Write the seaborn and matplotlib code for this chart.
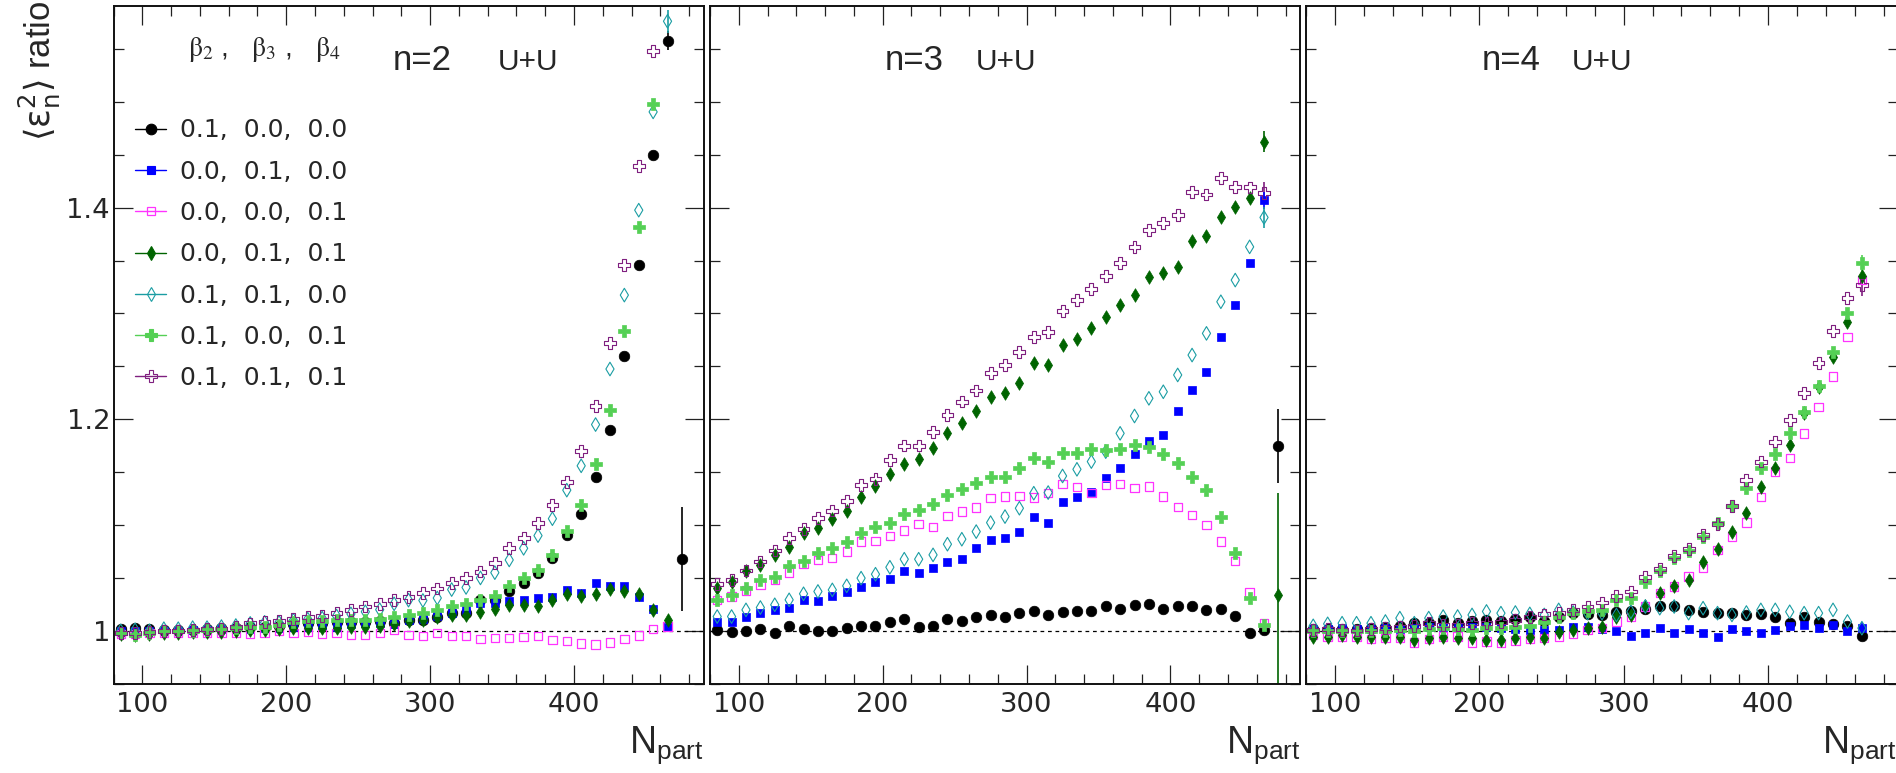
import numpy as np
import pandas as pd
import matplotlib
matplotlib.use("Agg")
import matplotlib.pyplot as plt
import seaborn as sns
from matplotlib.ticker import MultipleLocator, FixedLocator, FuncFormatter
from matplotlib.lines import Line2D

sns.set_theme(style="ticks")
plt.rcParams["font.family"] = ["Liberation Sans", "DejaVu Sans"]
plt.rcParams["mathtext.fontset"] = "custom"
plt.rcParams["mathtext.rm"] = "Liberation Sans"
plt.rcParams["mathtext.it"] = "Liberation Sans:italic"
plt.rcParams["mathtext.bf"] = "Liberation Sans:bold"
plt.rcParams["mathtext.fallback"] = "stixsans"

nan = np.nan

# centrality bins (N_part)
npart = np.arange(85, 476, 10)

# deformation sets (beta2, beta3, beta4)
labels = ["0.1,  0.0,  0.0", "0.0,  0.1,  0.0", "0.0,  0.0,  0.1", "0.0,  0.1,  0.1",
          "0.1,  0.1,  0.0", "0.1,  0.0,  0.1", "0.1,  0.1,  0.1"]

# ---- n = 2 ----
n2_b2 = [1.002, 1.003, 1.002, 1.001, 1.001, 1.001, 1.002, 1.003, 1.003, 1.004,
         1.004, 1.005, 1.006, 1.007, 1.007, 1.008, 1.008, 1.008, 1.009, 1.007,
         1.010, 1.010, 1.013, 1.017, 1.017, 1.029, 1.029, 1.038, 1.045, 1.055,
         1.069, 1.091, 1.110, 1.145, 1.190, 1.260, 1.346, 1.450, 1.558, 1.068]
n2_b3 = [1.000, 1.000, 1.000, 1.000, 1.000, 1.001, 1.001, 1.002, 1.002, 1.002,
         1.003, 1.003, 1.004, 1.004, 1.005, 1.004, 1.006, 1.007, 1.007, 1.006,
         1.010, 1.011, 1.014, 1.017, 1.020, 1.026, 1.026, 1.028, 1.029, 1.031,
         1.032, 1.039, 1.036, 1.045, 1.042, 1.042, 1.032, 1.021, 1.004, nan]
n2_b4 = [0.997, 0.997, 0.998, 0.998, 0.998, 0.998, 0.998, 0.998, 0.998, 0.997,
         0.998, 1.000, 0.998, 0.999, 0.997, 0.998, 0.996, 0.996, 0.998, 1.001,
         0.996, 0.995, 0.998, 0.995, 0.995, 0.992, 0.993, 0.993, 0.994, 0.995,
         0.9915, 0.9905, 0.988, 0.987, 0.989, 0.992, 0.9956, 1.0016, 1.004, nan]
n2_b3b4 = [0.997, 0.996, 0.997, 0.998, 0.998, 0.999, 0.999, 0.999, 1.000, 1.001,
           1.001, 1.002, 1.003, 1.003, 1.003, 1.003, 1.004, 1.004, 1.005, 1.006,
           1.009, 1.010, 1.013, 1.015, 1.015, 1.018, 1.0205, 1.0246, 1.0246, 1.0236,
           1.0287, 1.035, 1.033, 1.035, 1.040, 1.038, 1.035, 1.020, 1.010, nan]
n2_b2b3 = [1.000, 1.001, 1.000, 1.002, 1.002, 1.003, 1.003, 1.004, 1.005, 1.007,
           1.008, 1.008, 1.010, 1.011, 1.012, 1.014, 1.016, 1.018, 1.020, 1.0255,
           1.029, 1.0287, 1.031, 1.039, 1.041, 1.050, 1.055, 1.067, 1.078, 1.090,
           1.106, 1.133, 1.156, 1.195, 1.2475, 1.3174, 1.3977, 1.4906, 1.5763, nan]
n2_b2b4 = [0.998, 0.996, 0.998, 1.000, 1.000, 1.000, 1.001, 1.0015, 1.0025, 1.004,
           1.004, 1.0057, 1.008, 1.009, 1.009, 1.0104, 1.010, 1.010, 1.011, 1.013,
           1.015, 1.017, 1.020, 1.023, 1.0255, 1.029, 1.033, 1.0425, 1.050, 1.0576,
           1.072, 1.094, 1.119, 1.158, 1.209, 1.283, 1.382, 1.498, nan, nan]
n2_all = [0.998, 0.998, 0.999, 1.000, 1.000, 1.001, 1.002, 1.002, 1.004, 1.007,
          1.008, 1.009, 1.011, 1.013, 1.014, 1.017, 1.020, 1.023, 1.0255, 1.029,
          1.032, 1.0356, 1.040, 1.045, 1.050, 1.056, 1.064, 1.078, 1.0875, 1.102,
          1.119, 1.141, 1.170, 1.2126, 1.2718, 1.3458, 1.4396, 1.548, nan, nan]

# ---- n = 3 ----
n3_b2 = [1.001, 0.9987, 1.000, 1.0016, 0.998, 1.0047, 1.002, 1.000, 1.000, 1.0025,
         1.0047, 1.005, 1.0088, 1.011, 1.004, 1.005, 1.0113, 1.0094, 1.0126, 1.015,
         1.013, 1.0167, 1.0192, 1.015, 1.0176, 1.0189, 1.0189, 1.0236, 1.0205, 1.0246,
         1.0255, 1.0205, 1.023, 1.0236, 1.0198, 1.0205, 1.0142, 0.9978, 1.001, 1.1748]
n3_b3 = [1.0088, 1.0088, 1.0129, 1.0167, 1.0198, 1.0214, 1.0293, 1.0283, 1.033, 1.0365,
         1.0413, 1.0466, 1.0488, 1.0567, 1.0551, 1.0592, 1.0646, 1.0677, 1.0781, 1.086,
         1.0875, 1.0932, 1.1074, 1.1017, 1.1222, 1.1269, 1.1316, 1.1449, 1.1537, 1.1672,
         1.1795, 1.185, 1.208, 1.2277, 1.2444, 1.278, 1.308, 1.3474, 1.407, nan]
n3_b4 = [1.0293, 1.0324, 1.0381, 1.0435, 1.0482, 1.0551, 1.0633, 1.0671, 1.0687, 1.075,
         1.0844, 1.085, 1.0897, 1.0948, 1.1008, 1.0979, 1.1086, 1.1127, 1.1165, 1.1253,
         1.1269, 1.1275, 1.126, 1.1301, 1.1386, 1.1357, 1.1301, 1.138, 1.139, 1.1348,
         1.1364, 1.1269, 1.1168, 1.1096, 1.100, 1.0844, 1.0661, 1.0362, 1.0072, nan]
n3_b3b4 = [1.0403, 1.0466, 1.0561, 1.0624, 1.0718, 1.0797, 1.0929, 1.097, 1.1055, 1.1137,
           1.1263, 1.137, 1.1483, 1.1578, 1.1625, 1.1726, 1.1867, 1.1962, 1.2078, 1.2214,
           1.2252, 1.2346, 1.2535, 1.2513, 1.2702, 1.2755, 1.286, 1.297, 1.308, 1.3174,
           1.3347, 1.3385, 1.3436, 1.3687, 1.3732, 1.3914, 1.4009, 1.4088, 1.4623, 1.034]
n3_b2b3 = [1.0135, 1.0135, 1.0198, 1.022, 1.0246, 1.0293, 1.035, 1.0372, 1.0387, 1.0425,
           1.0498, 1.0535, 1.0601, 1.0677, 1.0677, 1.0718, 1.0819, 1.0866, 1.0938, 1.1023,
           1.108, 1.1159, 1.1301, 1.1307, 1.1464, 1.1527, 1.160, 1.1694, 1.1867, 1.2031,
           1.2198, 1.226, 1.2419, 1.2607, 1.2812, 1.3111, 1.3316, 1.363, 1.3908, nan]
n3_b2b4 = [1.0293, 1.034, 1.0403, 1.0482, 1.0513, 1.0614, 1.0664, 1.0734, 1.0781, 1.0838,
           1.0929, 1.0986, 1.1023, 1.1105, 1.1143, 1.1197, 1.1285, 1.1338, 1.1401, 1.1458,
           1.1452, 1.1537, 1.1631, 1.160, 1.1685, 1.1678, 1.1716, 1.171, 1.1716, 1.1757,
           1.1741, 1.1672, 1.159, 1.1458, 1.1332, 1.108, 1.074, 1.0309, 1.0057, nan]
n3_all = [1.0444, 1.0482, 1.057, 1.0655, 1.0759, 1.0875, 1.096, 1.1064, 1.1137, 1.1231,
          1.1379, 1.1433, 1.1615, 1.1751, 1.1751, 1.1877, 1.2041, 1.2167, 1.2272, 1.2434,
          1.2513, 1.2639, 1.278, 1.2828, 1.3026, 1.3127, 1.3228, 1.3354, 1.3474, 1.3625,
          1.3788, 1.3857, 1.393, 1.415, 1.4125, 1.4283, 1.4198, 1.4192, 1.4141, nan]

# ---- n = 4 ----
n4_b2 = [1.002, 1.002, 1.002, 1.002, 1.003, 1.004, 1.005, 1.007, 1.007, 1.010,
         1.007, 1.009, 1.010, 1.009, 1.011, 1.013, 1.009, 1.013, 1.0167, 1.016,
         1.015, 1.018, 1.019, 1.021, 1.023, 1.023, 1.0198, 1.0176, 1.0173, 1.0173,
         1.015, 1.0157, 1.0135, 1.0072, 1.0129, 1.0079, 1.0063, 1.0047, 0.9953, nan]
n4_b3 = [1.002, 1.002, 1.003, 1.002, 1.002, 1.003, 1.002, 1.003, 1.004, 1.004,
         1.003, 1.004, 1.004, 1.003, 1.002, 1.001, 1.001, 1.001, 1.0035, 1.004,
         1.0016, 1.000, 0.9955, 0.998, 1.0025, 0.998, 1.0016, 0.9978, 0.994, 1.0016,
         0.9994, 0.9978, 1.0003, 1.0047, 1.0057, 1.0025, 1.0057, 0.9994, 1.0025, nan]
n4_b4 = [0.9962, 0.9946, 0.9946, 0.9946, 0.9921, 0.993, 0.993, 0.989, 0.992, 0.9946,
         0.9946, 0.989, 0.990, 0.9883, 0.991, 0.9924, 0.9935, 0.994, 0.997, 1.001,
         1.0025, 1.0088, 1.0129, 1.023, 1.0356, 1.0419, 1.0513, 1.0592, 1.0765, 1.0891,
         1.1023, 1.1263, 1.1505, 1.1631, 1.1867, 1.2113, 1.2403, 1.278, 1.3316, nan]
n4_b3b4 = [0.9946, 0.9946, 0.996, 0.9946, 0.9946, 0.9946, 0.9946, 0.9915, 0.993, 0.994,
           0.993, 0.993, 0.9915, 0.9915, 0.993, 0.994, 0.993, 0.999, 1.0005, 1.0025,
           1.004, 1.013, 1.015, 1.023, 1.0362, 1.0419, 1.0482, 1.0646, 1.0772, 1.0938,
           1.1118, 1.1357, 1.1537, 1.1757, 1.2063, 1.2308, 1.2592, 1.2922, 1.3354, nan]
n4_b2b3 = [1.0047, 1.0066, 1.0072, 1.0072, 1.0072, 1.0088, 1.012, 1.0072, 1.012, 1.0135,
           1.0135, 1.015, 1.0183, 1.0167, 1.0173, 1.016, 1.015, 1.0198, 1.0173, 1.0167,
           1.0167, 1.015, 1.018, 1.023, 1.0214, 1.023, 1.0167, 1.0214, 1.0167, 1.015,
           1.0173, 1.0198, 1.0198, 1.018, 1.0167, 1.0167, 1.0198, 1.0088, 1.0025, nan]
n4_b2b4 = [0.9994, 1.000, 0.9994, 1.000, 0.9994, 0.9994, 1.001, 0.9994, 1.0016, 1.0025,
           1.0016, 1.001, 1.0025, 1.0025, 1.004, 1.0047, 1.0088, 1.013, 1.0167, 1.0192,
           1.0198, 1.0293, 1.0309, 1.0466, 1.057, 1.0687, 1.0759, 1.0885, 1.1017, 1.1181,
           1.1348, 1.1537, 1.1672, 1.1867, 1.2072, 1.2315, 1.2639, 1.3008, 1.3474, nan]
n4_all = [1.001, 1.0016, 1.001, 1.0003, 1.0016, 1.0025, 1.004, 1.0047, 1.0072, 1.0057,
          1.0057, 1.0072, 1.0072, 1.0079, 1.0104, 1.013, 1.0155, 1.0167, 1.0198, 1.023,
          1.0268, 1.033, 1.0372, 1.0513, 1.0583, 1.0709, 1.0772, 1.0907, 1.1011, 1.1181,
          1.1427, 1.160, 1.1789, 1.1993, 1.2245, 1.2535, 1.2837, 1.3143, 1.3269, nan]

panels = {
    2: [n2_b2, n2_b3, n2_b4, n2_b3b4, n2_b2b3, n2_b2b4, n2_all],
    3: [n3_b2, n3_b3, n3_b4, n3_b3b4, n3_b2b3, n3_b2b4, n3_all],
    4: [n4_b2, n4_b3, n4_b4, n4_b3b4, n4_b2b3, n4_b2b4, n4_all],
}

# statistical errors that are visible beyond the marker size: (n, series, N_part, error)
errors = [
    (2, 0, 475, 0.049), (2, 0, 465, 0.009), (2, 4, 465, 0.011),
    (3, 0, 475, 0.035), (3, 3, 475, 0.096), (3, 3, 465, 0.010),
    (3, 6, 465, 0.010), (3, 1, 465, 0.008), (3, 4, 465, 0.010),
    (4, 6, 465, 0.010), (4, 5, 465, 0.008), (4, 1, 465, 0.006),
]

# marker styles: colour, marker, filled, size (pt^2), edge width
styles = [
    ("#000000", "o", True, 58, 0.5),
    ("#0000ff", "s", True, 40, 0.5),
    ("#ff33ff", "s", False, 36, 0.9),
    ("#006400", "d", True, 48, 0.5),
    ("#1a9da3", "d", False, 48, 0.8),
    ("#55d055", "P", True, 68, 0.5),
    ("#7f1f7f", "P", False, 72, 0.8),
]

W, H = 1896, 773
fig = plt.figure(figsize=(W / 100, H / 100), dpi=100)

ax_left = [113.5, 710.0, 1306.0]
ax_wid = [590.0, 590.0, 592.0]
ax_top, ax_bot = 5.7, 683.7
num_font = "DejaVu Sans"

axes = []
for i, n in enumerate([2, 3, 4]):
    ax = fig.add_axes([ax_left[i] / W, (H - ax_bot) / H, ax_wid[i] / W, (ax_bot - ax_top) / H])
    axes.append(ax)
    ax.axhline(1.0, color="black", lw=0.9, ls=(0, (3, 3)), zorder=1)
    for j, (col, mk, filled, size, lw) in enumerate(styles):
        df = pd.DataFrame({"npart": npart, "ratio": panels[n][j]})
        kws = dict(marker=mk, s=size, linewidth=lw, edgecolor=col, color=col, zorder=3 + j)
        if not filled:
            kws["facecolor"] = "none"
        sns.scatterplot(data=df, x="npart", y="ratio", ax=ax, legend=False, **kws)
    for (pn, j, xv, err) in errors:
        if pn != n:
            continue
        yv = panels[n][j][int(np.where(npart == xv)[0][0])]
        ax.errorbar([xv], [yv], yerr=[err], fmt="none", ecolor=styles[j][0],
                    elinewidth=1.2, capsize=0, zorder=2)

    ax.set_xlim(80, 490)
    ax.set_ylim(0.95, 1.591)
    ax.set_xlabel("")
    ax.set_ylabel("")
    ax.xaxis.set_major_locator(FixedLocator([100, 200, 300, 400]))
    ax.xaxis.set_minor_locator(MultipleLocator(20))
    ax.yaxis.set_major_locator(FixedLocator([1.0, 1.2, 1.4]))
    ax.yaxis.set_minor_locator(MultipleLocator(0.05))
    ax.yaxis.set_major_formatter(FuncFormatter(lambda v, p: f"{v:g}"))
    ax.tick_params(which="both", direction="in", top=True, right=True,
                   width=0.9, color="#222222", labelsize=19.7, pad=6,
                   labelfontfamily=num_font)
    ax.tick_params(which="major", length=13.5)
    ax.tick_params(which="minor", length=7)
    ax.tick_params(axis="y", pad=2.5)
    if i > 0:
        ax.tick_params(axis="y", labelleft=False)
    for sp in ax.spines.values():
        sp.set_linewidth(1.4)
        sp.set_color("#111111")
    ax.text(1.0 + (ax_wid[0] - ax_wid[i]) / ax_wid[i], -0.102,
            r"$\mathrm{N}_{\mathrm{part}}$", transform=ax.transAxes,
            ha="right", va="baseline", fontsize=27)

# panel titles
for (xn, xs, n) in [(393, 498, 2), (885, 976, 3), (1482, 1572, 4)]:
    fig.text(xn / W, (H - 70) / H, f"n={n}", fontsize=25, va="baseline")
    fig.text(xs / W, (H - 70) / H, "U+U", fontsize=21.5, va="baseline")

# y-axis title
fig.text(40 / W, 1.0, r"$\langle\mathrm{\epsilon}^{2}_{\mathrm{n}}\rangle$ ratio", rotation=90,
         ha="center", va="top", fontsize=25, math_fontfamily="dejavusans")

# legend
handles = []
for (col, mk, filled, size, lw) in styles:
    handles.append(Line2D([0], [0], color=col, lw=1.0, marker=mk,
                          markersize=np.sqrt(size), markeredgecolor=col,
                          markerfacecolor=col if filled else "none",
                          markeredgewidth=max(lw, 0.8)))
ax0 = axes[0]
ax0.legend(handles, labels, loc="upper left",
           bbox_to_anchor=((135 - 113.5) / ax_wid[0], (ax_bot - 118.5) / (ax_bot - ax_top)),
           frameon=False, prop={"family": num_font, "size": 18},
           handlelength=1.25, handletextpad=0.55,
           labelspacing=0.69, borderpad=0, borderaxespad=0)
fig.text(188 / W, (H - 50) / H,
         r"$\mathrm{\beta}_{2}$ ,   $\mathrm{\beta}_{3}$ ,   $\mathrm{\beta}_{4}$",
         fontsize=20, va="center", math_fontfamily="stix")

fig.savefig("out.png", dpi=100)
